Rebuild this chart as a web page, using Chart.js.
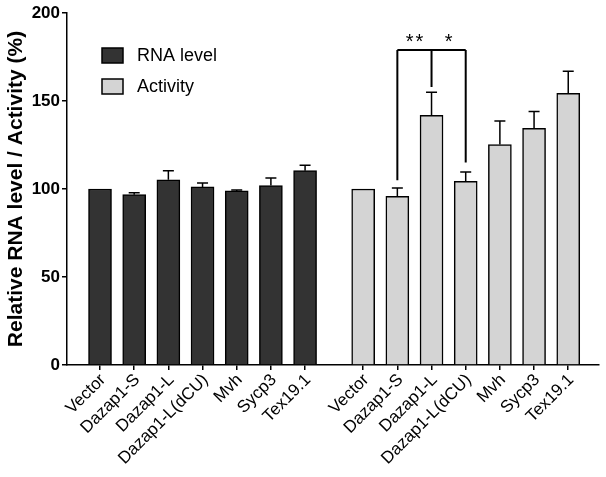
<!DOCTYPE html>
<html>
<head>
<meta charset="utf-8">
<script src="https://cdn.jsdelivr.net/npm/chart.js@4.4.1/dist/chart.umd.min.js"></script>
<style>
  html, body { margin: 0; padding: 0; background: #ffffff; overflow: hidden; }
  #chart { display: block; }
</style>
</head>
<body>
<canvas id="chart" width="606" height="477"></canvas>
<script>
// === Data ===
const sampleNames = ['Vector', 'Dazap1-S', 'Dazap1-L', 'Dazap1-L(dCU)', 'Mvh', 'Sycp3', 'Tex19.1'];
const rnaLevel = [100, 96.8, 105.2, 101.2, 98.9, 102, 110.4];
const rnaError = [0, 1.0, 5.2, 2.2, 0.6, 4.3, 3.1];
const activity = [100, 95.9, 141.9, 104.4, 125.3, 134.5, 154.4];
const activityError = [0, 4.7, 13.1, 5.3, 13.4, 9.5, 12.5];
const yTicks = [0, 50, 100, 150, 200];

// significance bracket: Dazap1-S / Dazap1-L / Dazap1-L(dCU) in the activity group
const bracketLevel = 179;
const bracketDrops = [105, 158, 115];
const bracketStars = ['**', '*'];

// === Layout constants ===
const GROUP_OFFSET = 7.7;   // where the second group starts on the x scale
const FONT = "'Liberation Sans', Arial, sans-serif";

const rnaPos = sampleNames.map((_, i) => i);
const actPos = sampleNames.map((_, i) => GROUP_OFFSET + i);
const allPos = rnaPos.concat(actPos);
const allLabels = sampleNames.concat(sampleNames);

const datasets = [
    {
        label: 'RNA level',
        data: rnaLevel.map((v, i) => ({ x: rnaPos[i], y: v })),
        errors: rnaError,
        backgroundColor: '#333333',
        borderColor: '#000000',
        borderWidth: 1.5
    },
    {
        label: 'Activity',
        data: activity.map((v, i) => ({ x: actPos[i], y: v })),
        errors: activityError,
        backgroundColor: '#d4d4d4',
        borderColor: '#000000',
        borderWidth: 1.5
    }
];

// === Extras: error bars, bracket, legend ===
const extrasPlugin = {
    id: 'extras',
    afterDatasetsDraw(chart) {
        const ctx = chart.ctx;
        const xs = chart.scales.x;
        const ys = chart.scales.y;

        ctx.save();
        ctx.strokeStyle = '#000000';
        ctx.lineWidth = 1.5;

        // error bars (upper only)
        chart.data.datasets.forEach(ds => {
            ds.data.forEach((pt, i) => {
                const err = ds.errors[i];
                if (!err) return;
                const px = xs.getPixelForValue(pt.x);
                const top = ys.getPixelForValue(pt.y);
                const end = ys.getPixelForValue(pt.y + err);
                ctx.beginPath();
                ctx.moveTo(px, top);
                ctx.lineTo(px, end);
                ctx.moveTo(px - 5.5, end);
                ctx.lineTo(px + 5.5, end);
                ctx.stroke();
            });
        });

        // significance bracket
        const bx = [actPos[1], actPos[2], actPos[3]].map(v => xs.getPixelForValue(v));
        const by = ys.getPixelForValue(bracketLevel);
        ctx.lineWidth = 2;
        ctx.beginPath();
        ctx.moveTo(bx[0], by);
        ctx.lineTo(bx[2], by);
        bx.forEach((x, i) => {
            ctx.moveTo(x, by);
            ctx.lineTo(x, ys.getPixelForValue(bracketDrops[i]));
        });
        ctx.stroke();

        ctx.fillStyle = '#000000';
        ctx.font = `20px ${FONT}`;
        ctx.letterSpacing = '2px';
        ctx.textAlign = 'center';
        ctx.textBaseline = 'alphabetic';
        ctx.fillText(bracketStars[0], (bx[0] + bx[1]) / 2 + 1, by - 2);
        ctx.fillText(bracketStars[1], (bx[1] + bx[2]) / 2 + 1, by - 2);
        ctx.letterSpacing = '0px';

        // legend inside the plot
        const lx = 102, ly = 48, rowGap = 31;
        chart.data.datasets.forEach((ds, i) => {
            const y = ly + i * rowGap;
            ctx.fillStyle = ds.backgroundColor;
            ctx.lineWidth = 1.5;
            ctx.beginPath();
            ctx.rect(lx, y, 21, 15);
            ctx.fill();
            ctx.stroke();
            ctx.fillStyle = '#000000';
            ctx.font = `18px ${FONT}`;
            ctx.textAlign = 'left';
            ctx.textBaseline = 'middle';
            ctx.fillText(ds.label, lx + 35, y + 8);
        });
        ctx.restore();
    }
};

const chart = new Chart(document.getElementById('chart'), {
    type: 'bar',
    data: { datasets },
    options: {
        responsive: false,
        animation: false,
        maintainAspectRatio: false,
        devicePixelRatio: 1,
        grouped: false,
        barThickness: 23,
        layout: { padding: { top: 13, right: 7, left: 0, bottom: 0 } },
        plugins: {
            legend: { display: false },
            tooltip: { enabled: false }
        },
        scales: {
            x: {
                type: 'linear',
                offset: false,
                min: -0.966,
                max: 14.6,
                afterBuildTicks: scale => {
                    scale.ticks = allPos.map(v => ({ value: v }));
                },
                afterFit: scale => { scale.height = 112; },
                grid: {
                    offset: false,
                    drawOnChartArea: false,
                    color: '#000000',
                    lineWidth: 1.5,
                    tickLength: 5
                },
                border: { color: '#000000', width: 1.5 },
                ticks: {
                    autoSkip: false,
                    minRotation: 45,
                    maxRotation: 45,
                    padding: 0,
                    labelOffset: 3,
                    color: '#000000',
                    font: { family: FONT, size: 17 },
                    callback: (value, index) => allLabels[index]
                }
            },
            y: {
                min: yTicks[0],
                max: yTicks[yTicks.length - 1],
                afterBuildTicks: scale => {
                    scale.ticks = yTicks.map(v => ({ value: v }));
                },
                afterFit: scale => { scale.width = 67; },
                grid: {
                    drawOnChartArea: false,
                    color: '#000000',
                    lineWidth: 1.5,
                    tickLength: 5
                },
                border: { color: '#000000', width: 1.5 },
                ticks: {
                    padding: 2,
                    color: '#000000',
                    font: { family: FONT, size: 17, weight: 'bold' }
                },
                title: {
                    display: true,
                    text: 'Relative RNA level / Activity (%)',
                    color: '#000000',
                    padding: { top: 4, bottom: 0 },
                    font: { family: FONT, size: 21, weight: 'bold' }
                }
            }
        }
    },
    plugins: [extrasPlugin]
});
</script>
</body>
</html>
